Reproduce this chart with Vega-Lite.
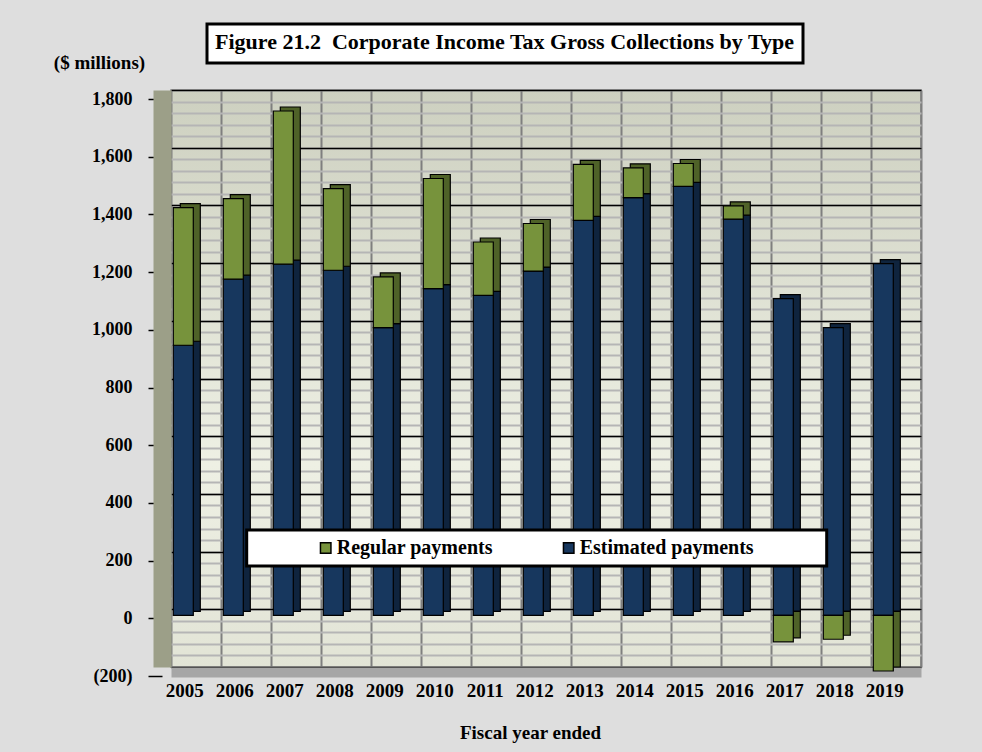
{
  "$schema": "https://vega.github.io/schema/vega-lite/v6.json",
  "width": 750,
  "height": 577,
  "autosize": {"type": "none"},
  "padding": {"left": 171, "top": 90, "right": 61, "bottom": 85},
  "background": "#dedede",
  "data": {
    "values": [
      {"year": "2005", "type": "Estimated payments", "value": 936},
      {"year": "2005", "type": "Regular payments", "value": 477},
      {"year": "2006", "type": "Estimated payments", "value": 1165},
      {"year": "2006", "type": "Regular payments", "value": 279},
      {"year": "2007", "type": "Estimated payments", "value": 1217},
      {"year": "2007", "type": "Regular payments", "value": 531},
      {"year": "2008", "type": "Estimated payments", "value": 1196},
      {"year": "2008", "type": "Regular payments", "value": 283},
      {"year": "2009", "type": "Estimated payments", "value": 997},
      {"year": "2009", "type": "Regular payments", "value": 176},
      {"year": "2010", "type": "Estimated payments", "value": 1132},
      {"year": "2010", "type": "Regular payments", "value": 382},
      {"year": "2011", "type": "Estimated payments", "value": 1109},
      {"year": "2011", "type": "Regular payments", "value": 185},
      {"year": "2012", "type": "Estimated payments", "value": 1193},
      {"year": "2012", "type": "Regular payments", "value": 165},
      {"year": "2013", "type": "Estimated payments", "value": 1369},
      {"year": "2013", "type": "Regular payments", "value": 194},
      {"year": "2014", "type": "Estimated payments", "value": 1448},
      {"year": "2014", "type": "Regular payments", "value": 103},
      {"year": "2015", "type": "Estimated payments", "value": 1487},
      {"year": "2015", "type": "Regular payments", "value": 79},
      {"year": "2016", "type": "Estimated payments", "value": 1373},
      {"year": "2016", "type": "Regular payments", "value": 46},
      {"year": "2017", "type": "Estimated payments", "value": 1098},
      {"year": "2017", "type": "Regular payments", "value": -92},
      {"year": "2018", "type": "Estimated payments", "value": 997},
      {"year": "2018", "type": "Regular payments", "value": -83},
      {"year": "2019", "type": "Estimated payments", "value": 1219},
      {"year": "2019", "type": "Regular payments", "value": -193}
    ]
  },
  "resolve": {"axis": {"y": "independent"}},
  "layer": [
    {
      "mark": {"type": "bar", "width": 20, "xOffset": -5.7, "yOffset": 2, "y2Offset": 2, "stroke": "black", "strokeWidth": 1.2},
      "encoding": {
        "x": {"field": "year", "type": "ordinal", "scale": {"paddingInner": 0, "paddingOuter": 0}},
        "y": {
          "field": "value", "type": "quantitative", "stack": "zero",
          "scale": {"domain": [-200, 1800], "nice": false, "zero": false},
          "axis": {"orient": "left", "title": null, "labels": false, "ticks": false, "domain": false, "grid": true, "minExtent": 0, "maxExtent": 0,
            "values": [-200,-160,-120,-80,-40,0,40,80,120,160,200,240,280,320,360,400,440,480,520,560,600,640,680,720,760,800,840,880,920,960,1000,1040,1080,1120,1160,1200,1240,1280,1320,1360,1400,1440,1480,1520,1560,1600,1640,1680,1720,1760,1800],
            "gridColor": "#b5b5b5", "gridWidth": 2}
        },
        "fill": {"field": "type", "type": "nominal", "scale": {"domain": ["Estimated payments", "Regular payments"], "range": ["#0f243e", "#4f6228"]}, "legend": null},
        "order": {"field": "type", "sort": "ascending"}
      }
    },
    {
      "mark": {"type": "bar", "width": 20, "xOffset": -12.7, "yOffset": 6, "y2Offset": 6, "stroke": "black", "strokeWidth": 1.2},
      "encoding": {
        "x": {
          "field": "year", "type": "ordinal", "scale": {"paddingInner": 0, "paddingOuter": 0},
          "axis": {
            "orient": "bottom", "offset": 5, "domain": true, "domainColor": "#a6a6a6", "domainWidth": 10,
            "ticks": false, "grid": true, "tickBand": "extent", "gridColor": "#7f7f7f", "gridWidth": 2,
            "labelAngle": 0, "labelOffset": 7.3, "labelPadding": 18,
            "labelFont": "Liberation Serif", "labelFontSize": 19, "labelFontWeight": "bold", "labelColor": "black",
            "title": "Fiscal year ended", "titleFont": "Liberation Serif", "titleFontSize": 19, "titleFontWeight": "bold", "titleColor": "black",
            "titleX": 359, "titleY": 60, "titleAlign": "center", "titleBaseline": "middle"
          }
        },
        "y": {
          "field": "value", "type": "quantitative", "stack": "zero",
          "scale": {"domain": [-200, 1800], "nice": false, "zero": false},
          "axis": {"orient": "left", "title": null, "labels": false, "ticks": false, "domain": false, "grid": true, "minExtent": 0, "maxExtent": 0,
            "values": [-200, 0, 200, 400, 600, 800, 1000, 1200, 1400, 1600, 1800],
            "gridColor": "black", "gridWidth": 1.6}
        },
        "color": {
          "field": "type", "type": "nominal",
          "scale": {"domain": ["Regular payments", "Estimated payments"], "range": ["#77933c", "#17375e"]},
          "legend": {
            "orient": "none", "legendX": 75.7, "legendY": 440, "direction": "horizontal",
            "title": "\u200b\u00a0\u00a0\u00a0\u00a0\u00a0\u00a0\u00a0\u00a0\u00a0\u00a0\u00a0\u200b", "titleOrient": "left", "titleFont": "Liberation Serif", "titleFontSize": 20, "titlePadding": 6,
            "fillColor": "white", "strokeColor": "black", "padding": 8,
            "labelFont": "Liberation Serif", "labelFontSize": 20, "labelFontWeight": "bold", "labelColor": "black",
            "labelOffset": 1, "labelLimit": 400,
            "labelExpr": "datum.label == 'Estimated payments' ? datum.label + '\u00a0\u00a0\u00a0\u00a0\u00a0\u00a0\u00a0\u00a0\u00a0\u00a0\u00a0\u00a0\u00a0\u200b' : datum.label",
            "symbolType": "square", "symbolSize": 110, "symbolStrokeColor": "black", "symbolStrokeWidth": 1.5,
            "columnPadding": 65
          }
        },
        "order": {"field": "type", "sort": "ascending"}
      }
    },
    {
      "mark": {"type": "point", "opacity": 0},
      "encoding": {
        "x": {"field": "year", "type": "ordinal", "scale": {"paddingInner": 0, "paddingOuter": 0}},
        "y": {
          "field": "value", "type": "quantitative",
          "scale": {"domain": [-200, 1800], "nice": false, "zero": false},
          "axis": {
            "orient": "left", "offset": 9, "tickOffset": 9, "grid": false,
            "domain": true, "domainColor": "#9c9f88", "domainWidth": 18,
            "ticks": true, "tickSize": 14, "tickWidth": 1.5, "tickColor": "black",
            "labelPadding": 16, "labelFlush": false, "labelOverlap": false, "labelBound": false,
            "values": [-200, 0, 200, 400, 600, 800, 1000, 1200, 1400, 1600, 1800],
            "labelExpr": "datum.value < 0 ? '(' + format(-datum.value, ',') + ')' : format(datum.value, ',')",
            "labelFont": "Liberation Serif", "labelFontSize": 18, "labelFontWeight": "bold", "labelColor": "black",
            "title": "($ millions)", "titleAngle": 0, "titleX": -63, "titleY": -28, "titleAlign": "center", "titleBaseline": "middle",
            "titleFont": "Liberation Serif", "titleFontSize": 19, "titleFontWeight": "bold", "titleColor": "black"
          }
        },
        "strokeDash": {
          "datum": "Figure 21.2",
          "legend": {
            "orient": "none", "legendX": 36, "legendY": -66,
            "title": "Figure 21.2\u00a0 Corporate Income Tax Gross Collections by Type",
            "titleFont": "Liberation Serif", "titleFontSize": 22, "titleFontWeight": "bold", "titleColor": "black",
            "titlePadding": 0, "titleLimit": 1000,
            "fillColor": "white", "strokeColor": "black", "padding": 8,
            "labelExpr": "''", "labelFontSize": 1, "symbolSize": 1, "symbolOpacity": 0, "symbolStrokeWidth": 0
          }
        }
      }
    }
  ],
  "config": {
    "font": "Liberation Serif",
    "legend": {"strokeWidth": 3},
    "view": {
      "stroke": "#808080",
      "strokeWidth": 1.5,
      "fill": {"gradient": "linear", "x1": 0, "y1": 0, "x2": 0, "y2": 1,
        "stops": [{"offset": 0, "color": "#cdd0c0"}, {"offset": 0.65, "color": "#eef0e4"}, {"offset": 1, "color": "#e2e4d6"}]}
    }
  }
}
